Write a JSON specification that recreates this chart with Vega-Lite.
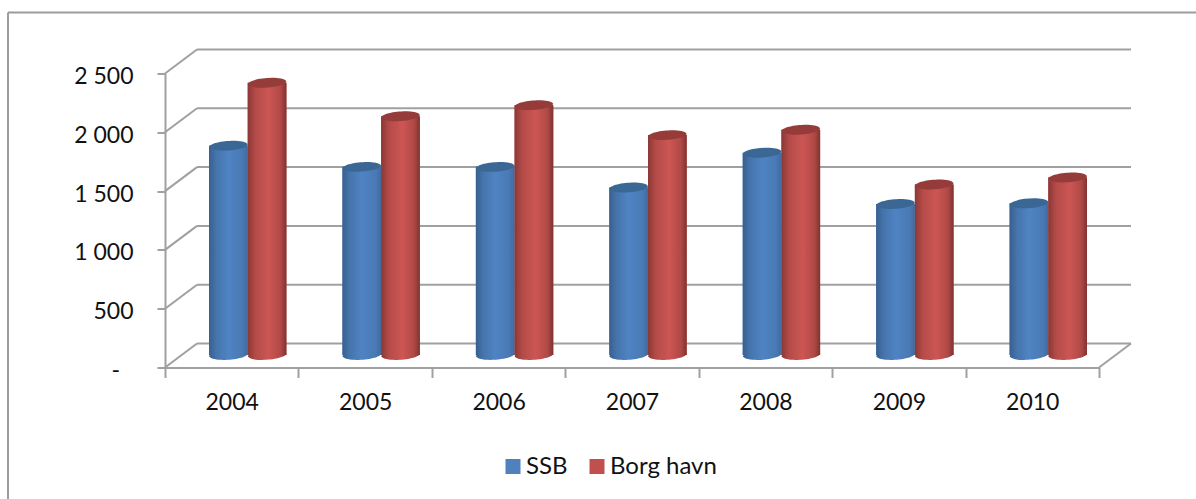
{
  "$schema": "https://vega.github.io/schema/vega-lite/v6.json",
  "width": 934,
  "height": 294,
  "autosize": "none",
  "padding": {"left": 165, "top": 73.5, "right": 97, "bottom": 131.5},
  "background": "white",
  "view": {"stroke": null},
  "config": {"font": "Lato"},
  "datasets": {
    "gjennomslag": [
      {"year": "2004", "series": "SSB", "value": 1780},
      {"year": "2004", "series": "Borg havn", "value": 2315},
      {"year": "2005", "series": "SSB", "value": 1600},
      {"year": "2005", "series": "Borg havn", "value": 2030},
      {"year": "2006", "series": "SSB", "value": 1600},
      {"year": "2006", "series": "Borg havn", "value": 2125},
      {"year": "2007", "series": "SSB", "value": 1425},
      {"year": "2007", "series": "Borg havn", "value": 1870},
      {"year": "2008", "series": "SSB", "value": 1720},
      {"year": "2008", "series": "Borg havn", "value": 1915},
      {"year": "2009", "series": "SSB", "value": 1285},
      {"year": "2009", "series": "Borg havn", "value": 1450},
      {"year": "2010", "series": "SSB", "value": 1290},
      {"year": "2010", "series": "Borg havn", "value": 1510}
    ],
    "ticks": [{"tick": 0}, {"tick": 500}, {"tick": 1000}, {"tick": 1500}, {"tick": 2000}, {"tick": 2500}]
  },
  "resolve": {"scale": {"x": "independent", "y": "independent"}},
  "layer": [
    {
      "data": {"values": [{"edge": "top"}]},
      "mark": {"type": "rule", "color": "#9c9c9c", "strokeWidth": 2},
      "encoding": {
        "x": {"datum": 0, "type": "quantitative", "axis": null, "scale": {"domain": [0, 1], "range": [-157, 1031]}},
        "x2": {"datum": 1},
        "y": {"datum": 0, "type": "quantitative", "axis": null, "scale": {"domain": [0, 1], "range": [-61, 0]}}
      }
    },
    {
      "data": {"values": [{"edge": "left"}]},
      "mark": {"type": "rule", "color": "#9c9c9c", "strokeWidth": 2},
      "encoding": {
        "x": {"datum": 0, "type": "quantitative", "axis": null, "scale": {"domain": [0, 1], "range": [-157, 0]}},
        "y": {"datum": 0, "type": "quantitative", "axis": null, "scale": {"domain": [0, 1], "range": [-61, 426]}},
        "y2": {"datum": 1}
      }
    },
    {
      "data": {"name": "ticks"},
      "mark": {"type": "rule", "color": "#a0a0a0", "strokeWidth": 2, "xOffset": 32, "x2Offset": 32, "yOffset": -24, "y2Offset": -24},
      "encoding": {
        "x": {"datum": 0, "type": "quantitative", "axis": null, "scale": {"domain": [0, 1]}},
        "x2": {"datum": 1},
        "y": {"field": "tick", "type": "quantitative", "axis": null, "scale": {"domain": [0, 2500]}}
      }
    },
    {
      "data": {"name": "ticks"},
      "mark": {"type": "rule", "color": "#a0a0a0", "strokeWidth": 2, "x2Offset": 32, "y2Offset": -24},
      "encoding": {
        "x": {"datum": 0, "type": "quantitative", "axis": null, "scale": {"domain": [0, 1]}},
        "x2": {"datum": 0},
        "y": {"field": "tick", "type": "quantitative", "scale": {"domain": [0, 2500]},
          "axis": {
            "values": [0, 500, 1000, 1500, 2000, 2500],
            "title": null, "grid": false, "domainColor": "#a0a0a0", "domainWidth": 2,
            "tickColor": "#a0a0a0", "tickWidth": 2, "tickSize": 8,
            "labelFont": "Lato", "labelFontSize": 23, "labelColor": "#111111", "labelPadding": 24, "labelOffset": 3,
            "labelExpr": "datum.value === 0 ? '' : replace(format(datum.value, ','), ',', ' ')"
          }
        },
        "y2": {"field": "tick"}
      }
    },
    {
      "data": {"values": [{"tick": 0}]},
      "mark": {"type": "text", "text": "-", "align": "right", "baseline": "middle", "dx": -45, "dy": 3, "font": "Lato", "fontSize": 23, "color": "#111111"},
      "encoding": {
        "x": {"datum": 0, "type": "quantitative", "axis": null, "scale": {"domain": [0, 1]}},
        "y": {"field": "tick", "type": "quantitative", "axis": null, "scale": {"domain": [0, 2500]}}
      }
    },
    {
      "data": {"values": [{"corner": "floor"}]},
      "mark": {"type": "rule", "color": "#a0a0a0", "strokeWidth": 2, "x2Offset": 32, "y2Offset": -24},
      "encoding": {
        "x": {"datum": 1, "type": "quantitative", "axis": null, "scale": {"domain": [0, 1]}},
        "x2": {"datum": 1},
        "y": {"datum": 0, "type": "quantitative", "axis": null, "scale": {"domain": [0, 2500]}},
        "y2": {"datum": 0}
      }
    },
    {
      "data": {"name": "gjennomslag"},
      "mark": {"type": "rule", "opacity": 0},
      "encoding": {
        "x": {"field": "year", "type": "nominal", "scale": {"paddingInner": 0, "paddingOuter": 0},
          "axis": {
            "orient": "bottom", "title": null, "labelAngle": 0, "tickBand": "extent", "domainColor": "#a0a0a0", "domainWidth": 2,
            "tickColor": "#a0a0a0", "tickWidth": 2, "tickSize": 10,
            "labelFont": "Lato", "labelFontSize": 23, "labelColor": "#111111", "labelPadding": 14
          }
        }
      }
    },
    {
      "data": {"name": "gjennomslag"},
      "encoding": {
        "x": {"field": "year", "type": "nominal", "axis": null, "scale": {"range": [16, 950], "paddingInner": 0.42, "paddingOuter": 0.21}},
        "xOffset": {"field": "series", "type": "nominal", "sort": ["SSB", "Borg havn"], "scale": {"domain": ["SSB", "Borg havn"]}},
        "y": {"field": "value", "type": "quantitative", "axis": null, "scale": {"domain": [-106, 2394], "nice": false, "zero": false}}
      },
      "layer": [
        {
          "mark": {"type": "bar"},
          "encoding": {
            "y": {"field": "value", "type": "quantitative", "axis": null, "scale": {"domain": [-106, 2394], "nice": false, "zero": false}},
            "y2": {"datum": 0},
            "color": {
              "field": "series", "type": "nominal", "sort": ["SSB", "Borg havn"],
              "scale": {"domain": ["SSB", "Borg havn"], "range": ["#4f81bd", "#c0504d"]},
              "legend": {
                "title": null, "orient": "none", "legendX": 336, "legendY": 381, "direction": "horizontal",
                "symbolType": "square", "symbolSize": 225, "symbolStrokeWidth": 0, "symbolOpacity": 1,
                "labelFont": "Lato", "labelFontSize": 24, "labelColor": "#111111", "labelOffset": 1, "columnPadding": 17
              }
            }
          }
        },
        {
          "transform": [{"filter": "datum.series === 'SSB'"}],
          "mark": {"type": "bar", "color": {"gradient": "linear", "x1": 0, "y1": 0, "x2": 1, "y2": 0, "stops": [
            {"offset": 0, "color": "#37608f"}, {"offset": 0.2, "color": "#4675ad"}, {"offset": 0.5, "color": "#4f83c3"}, {"offset": 0.85, "color": "#4a7ab5"}, {"offset": 1, "color": "#3f6b9f"}
          ]}},
          "encoding": {"y2": {"datum": 0}}
        },
        {
          "transform": [{"filter": "datum.series === 'SSB'"}],
          "mark": {"type": "point", "filled": true, "opacity": 1, "size": 1482, "shape": "M-1,0.08 C-1.02,-0.22 0.75,-0.42 1,-0.08 C1.02,0.22 -0.75,0.42 -1,0.08 Z",
            "fill": {"gradient": "linear", "x1": 0, "y1": 0, "x2": 1, "y2": 0, "stops": [
              {"offset": 0, "color": "#37608f"}, {"offset": 0.2, "color": "#4675ad"}, {"offset": 0.5, "color": "#4f83c3"}, {"offset": 0.85, "color": "#4a7ab5"}, {"offset": 1, "color": "#3f6b9f"}
            ]}},
          "encoding": {"y": {"datum": 0}}
        },
        {
          "transform": [{"filter": "datum.series === 'SSB'"}],
          "mark": {"type": "point", "filled": true, "opacity": 1, "size": 1482, "fill": "#3b6795", "shape": "M-1,0.08 C-1.02,-0.22 0.75,-0.42 1,-0.08 C1.02,0.22 -0.75,0.42 -1,0.08 Z"}
        },
        {
          "transform": [{"filter": "datum.series === 'Borg havn'"}],
          "mark": {"type": "bar", "color": {"gradient": "linear", "x1": 0, "y1": 0, "x2": 1, "y2": 0, "stops": [
            {"offset": 0, "color": "#8a3836"}, {"offset": 0.2, "color": "#b44b48"}, {"offset": 0.55, "color": "#cc5653"}, {"offset": 0.85, "color": "#b04946"}, {"offset": 1, "color": "#7f3331"}
          ]}},
          "encoding": {"y2": {"datum": 0}}
        },
        {
          "transform": [{"filter": "datum.series === 'Borg havn'"}],
          "mark": {"type": "point", "filled": true, "opacity": 1, "size": 1482, "shape": "M-1,0.08 C-1.02,-0.22 0.75,-0.42 1,-0.08 C1.02,0.22 -0.75,0.42 -1,0.08 Z",
            "fill": {"gradient": "linear", "x1": 0, "y1": 0, "x2": 1, "y2": 0, "stops": [
              {"offset": 0, "color": "#8a3836"}, {"offset": 0.2, "color": "#b44b48"}, {"offset": 0.55, "color": "#cc5653"}, {"offset": 0.85, "color": "#b04946"}, {"offset": 1, "color": "#7f3331"}
            ]}},
          "encoding": {"y": {"datum": 0}}
        },
        {
          "transform": [{"filter": "datum.series === 'Borg havn'"}],
          "mark": {"type": "point", "filled": true, "opacity": 1, "size": 1482, "fill": "#953b39", "shape": "M-1,0.08 C-1.02,-0.22 0.75,-0.42 1,-0.08 C1.02,0.22 -0.75,0.42 -1,0.08 Z"}
        }
      ]
    }
  ]
}
